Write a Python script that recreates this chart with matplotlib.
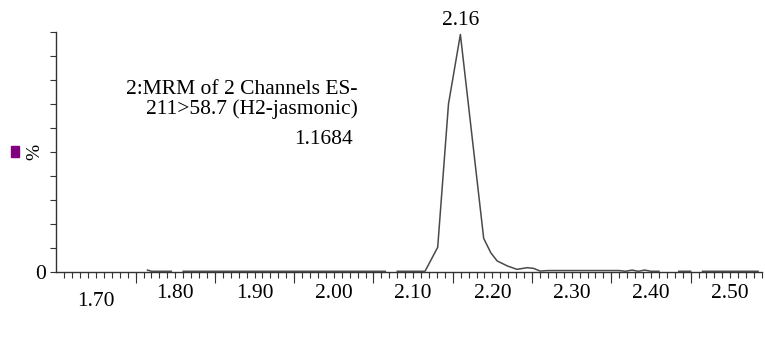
import numpy as np
import matplotlib
matplotlib.use("Agg")
import matplotlib.pyplot as plt
from matplotlib.transforms import ScaledTranslation
from matplotlib.patches import Rectangle

# ---- data ----
times = [1.765, 1.770, 1.795, np.nan, 1.810, 2.065, np.nan, 2.080, 2.115,
         2.131, 2.1446, 2.1596, 2.189, 2.198, 2.206, 2.219, 2.231, 2.244,
         2.252, 2.260, 2.270, 2.360, 2.368, 2.376, 2.384, 2.392, 2.400,
         2.410, np.nan, 2.435, 2.450, np.nan, 2.465, 2.535]
intensity = [0.8, 0.3, 0.3, np.nan, 0.3, 0.3, np.nan, 0.3, 0.3,
             10.3, 70.0, 99.0, 14.0, 8.0, 4.6, 2.5, 1.1, 1.8,
             1.5, 0.4, 0.6, 0.6, 0.3, 0.8, 0.3, 0.8, 0.3,
             0.3, np.nan, 0.3, 0.3, np.nan, 0.3, 0.3]
tick_values = [1.70, 1.80, 1.90, 2.00, 2.10, 2.20, 2.30, 2.40, 2.50]
tick_labels = ["1.70", "1.80", "1.90", "2.00", "2.10", "2.20", "2.30", "2.40", "2.50"]
long_ticks = [1.75, 1.85, 1.95, 2.05, 2.15, 2.25, 2.35, 2.45]
peak_time = 2.16
peak_label = "2.16"
info_title = "2:MRM of 2 Channels ES-\n211>58.7 (H2-jasmonic)"
info_value = "1.1684"

plt.rcParams['font.family'] = ['Liberation Serif', 'DejaVu Serif']

W, H = 765, 338
fig = plt.figure(figsize=(W / 100, H / 100), dpi=100)
ax = fig.add_axes([56 / W, 66 / H, (762 - 56) / W, 240 / H])

ax.plot(times, intensity, color="#4a4a4a", lw=1.1, clip_on=False, zorder=3)

ax.set_xlim(1.6496, 2.538)
ax.set_ylim(0, 100)

for s in ["top", "right"]:
    ax.spines[s].set_visible(False)
for s in ["left", "bottom"]:
    ax.spines[s].set_color("#333333")
    ax.spines[s].set_linewidth(1.0)

ax.set_xticks(tick_values)
ax.set_xticklabels(tick_labels, fontsize=15.5)
ax.set_xticks(np.arange(1.66, 2.541, 0.01), minor=True)
ax.tick_params(axis="x", which="both", direction="out", length=4, width=0.8,
               color="#333333", pad=5)
for lab in ax.get_xticklabels():
    if lab.get_text() == "1.70":
        lab.set_transform(lab.get_transform() + ScaledTranslation(0, -7 / 100, fig.dpi_scale_trans))

sec = ax.secondary_xaxis(0)
sec.set_xticks(long_ticks)
sec.tick_params(axis="x", length=8, width=0.8, color="#333333", labelbottom=False)
sec.spines["bottom"].set_visible(False)

ax.set_yticks(np.arange(0, 101, 10))
ax.set_yticklabels(["0"] + [""] * 10, fontsize=15.5)
ax.tick_params(axis="y", direction="out", length=4, width=0.8, color="#333333", pad=3)
ax.set_ylabel("%", fontsize=14)
ax.yaxis.set_label_coords(-13 / 706, 0.5)

ax.text(peak_time, 101, peak_label, ha="center", va="bottom", fontsize=15.5)
ax.text(0.427, 0.80, info_title, transform=ax.transAxes, ha="right", va="top",
        fontsize=15.5, linespacing=1.0, multialignment="right")
ax.text(0.4205, 0.55, info_value, transform=ax.transAxes, ha="right", va="center",
        fontsize=15.5)

fig.patches.append(Rectangle((11 / W, (H - 157) / H), 8 / W, 11 / H,
                             transform=fig.transFigure, color="#800080"))

fig.savefig("out.png", dpi=100)
